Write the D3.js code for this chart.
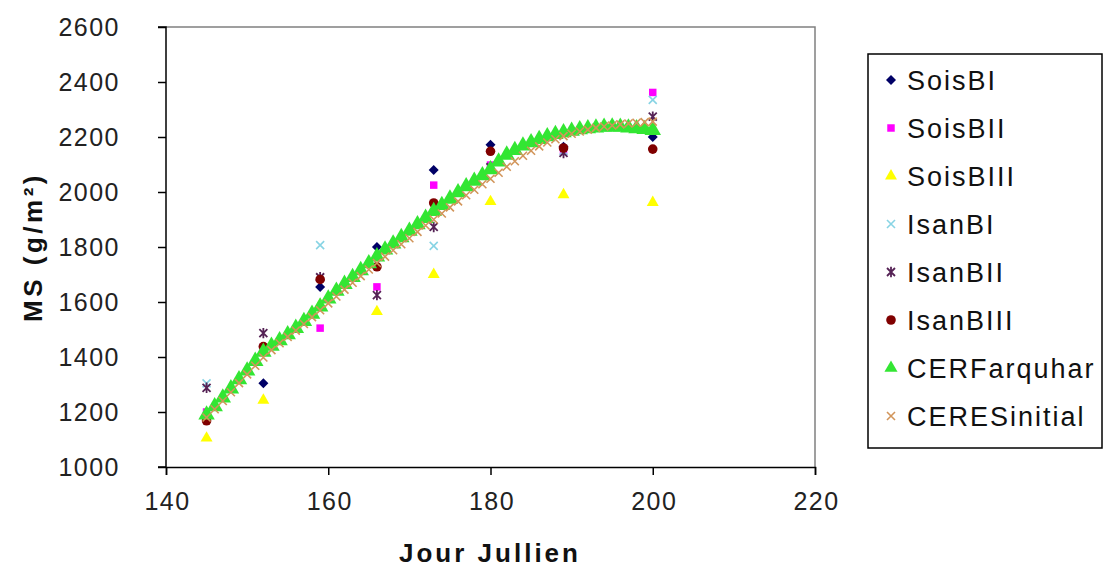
<!DOCTYPE html>
<html><head><meta charset="utf-8">
<script src="https://cdn.jsdelivr.net/npm/d3@7"></script>
<style>
body{margin:0;background:#fff;}
svg{display:block;font-family:"Liberation Sans",Arial,sans-serif;}
</style></head><body>
<svg id="c" width="1104" height="581"></svg>
<script>
const days = [145,152,159,166,173,180,189,200];
const soisBI   = [1185,1305,1655,1800,2080,2172,2165,2200];
const soisBII  = [1200,1435,1505,1655,2025,2098,2150,2362];
const soisBIII = [1105,1243,1590,1565,1700,1965,1990,1962];
const isanBI   = [1304,1430,1807,1740,1804,2090,2150,2335];
const isanBII  = [1288,1487,1690,1625,1873,2090,2142,2274];
const isanBIII = [1168,1438,1682,1728,1960,2148,2160,2156];

const modelDays = d3.range(145,201);
const cerFarquhar = [1190,1220,1252,1285,1318,1350,1385,1418,1440,1460,1482,1505,1530,1556,1583,1612,1640,1665,1690,1715,1740,1765,1790,1812,1835,1858,1882,1905,1930,1952,1975,1998,2020,2040,2060,2082,2110,2135,2152,2168,2180,2192,2202,2210,2216,2222,2227,2231,2234,2236,2237,2236,2234,2231,2228,2225];
const ceresInitial = [1180,1210,1240,1272,1305,1337,1368,1398,1425,1450,1473,1496,1520,1545,1570,1595,1620,1645,1670,1694,1718,1742,1765,1788,1810,1832,1855,1878,1900,1922,1944,1966,1988,2008,2028,2048,2070,2092,2112,2132,2150,2166,2180,2192,2203,2212,2220,2227,2233,2238,2242,2246,2249,2252,2254,2256];

const xTicks = [140,160,180,200,220];
const yTicks = [1000,1200,1400,1600,1800,2000,2200,2400,2600];
const seriesNames = ["SoisBI","SoisBII","SoisBIII","IsanBI","IsanBII","IsanBIII","CERFarquhar","CERESinitial"];

const svg = d3.select("#c");
const x = d3.scaleLinear().domain([140,220]).range([166,815]);
const y = d3.scaleLinear().domain([1000,2600]).range([467,27]);

// plot border (top/right grey)
svg.append("path").attr("d",`M${x(140)},${y(2600)}H${x(220)}V${y(1000)}`)
  .attr("fill","none").attr("stroke","#808080").attr("stroke-width",1.5);

function marker(g, type, color, s){
  s = s||1;
  const k = Math.sqrt(s);
  if(type==="diamond"){
    const r=5*k;
    g.append("path").attr("d",`M0,${-r}L${r},0L0,${r}L${-r},0Z`).attr("fill",color);
  } else if(type==="square"){
    g.append("path").attr("d",d3.symbol(d3.symbolSquare, 56*s)()).attr("fill",color);
  } else if(type==="triangle"){
    g.append("path").attr("d",d3.symbol(d3.symbolTriangle, 62*s)()).attr("fill",color);
  } else if(type==="circle"){
    g.append("circle").attr("r",4.8*k).attr("fill",color);
  } else if(type==="x"){
    const r=4*k;
    g.append("path").attr("d",`M${-r},${-r}L${r},${r}M${-r},${r}L${r},${-r}`).attr("stroke",color).attr("stroke-width",1.6).attr("fill","none");
  } else if(type==="star"){
    const r=4*k;
    g.append("path").attr("d",`M${-r},${-r}L${r},${r}M${-r},${r}L${r},${-r}M0,${-r*1.3}V${r*1.3}`).attr("stroke",color).attr("stroke-width",1.8).attr("fill","none");
  }
}

const series = [
  {name:seriesNames[0], days:days, vals:soisBI, type:"diamond", color:"#000066"},
  {name:seriesNames[1], days:days, vals:soisBII, type:"square", color:"#FF00FF"},
  {name:seriesNames[2], days:days, vals:soisBIII, type:"triangle", color:"#FFFF00"},
  {name:seriesNames[3], days:days, vals:isanBI, type:"x", color:"#88D4E4"},
  {name:seriesNames[4], days:days, vals:isanBII, type:"star", color:"#552255"},
  {name:seriesNames[5], days:days, vals:isanBIII, type:"circle", color:"#800000"},
  {name:seriesNames[6], days:modelDays, vals:cerFarquhar, type:"triangle", color:"#33E633", size:1.9},
  {name:seriesNames[7], days:modelDays, vals:ceresInitial, type:"x", color:"#D2955A"}
];

const plot = svg.append("g");
series.forEach(s=>{
  s.days.forEach((d,i)=>{
    const g = plot.append("g").attr("transform",`translate(${x(d)},${y(s.vals[i])})`);
    marker(g, s.type, s.color, s.size);
  });
});

// axes
const yAxis = d3.axisLeft(y).tickValues(yTicks).tickSize(8).tickPadding(38).tickFormat(d3.format("d"));
const xAxis = d3.axisBottom(x).tickValues(xTicks).tickSize(8).tickPadding(12).tickFormat(d3.format("d"));
const ya = svg.append("g").attr("transform",`translate(${x(140)},0)`).call(yAxis);
const xa = svg.append("g").attr("transform",`translate(0,${y(1000)})`).call(xAxis);
[ya,xa].forEach(a=>{
  a.select(".domain").attr("stroke","#000").attr("stroke-width",1.5);
  a.selectAll(".tick line").attr("stroke","#000").attr("stroke-width",1.5);
  a.selectAll(".tick text").attr("font-size",25).attr("fill","#222")
    .attr("letter-spacing","1.5px").attr("font-family","Liberation Sans, Arial, sans-serif");
});
ya.select(".domain").attr("d",`M-8,${y(2600)}H0V${y(1000)}H-8`);
xa.selectAll(".tick text").attr("dy","0.9em").attr("dx","1px");

// axis titles
svg.append("text").attr("x",490).attr("y",562).attr("text-anchor","middle")
  .attr("font-size",26).attr("font-weight","bold").attr("fill","#111")
  .attr("letter-spacing","3px").text("Jour Jullien");
svg.append("text").attr("transform","translate(42,247) rotate(-90)").attr("text-anchor","middle")
  .attr("font-size",26).attr("font-weight","bold").attr("fill","#111")
  .attr("letter-spacing","3.5px").text("MS (g/m²)");

// legend
const lg = svg.append("g");
lg.append("rect").attr("x",868).attr("y",54).attr("width",234).attr("height",394)
  .attr("fill","#fff").attr("stroke","#000").attr("stroke-width",1.5);
series.forEach((s,i)=>{
  const ly = 80 + i*48;
  const g = lg.append("g").attr("transform",`translate(891,${ly})`);
  marker(g, s.type, s.color, s.name==="CERFarquhar"?1.2:1);
  lg.append("text").attr("x",907).attr("y",ly).attr("dy","0.36em")
    .attr("font-size",27).attr("fill","#111").attr("letter-spacing","2px").text(s.name);
});
</script>
</body></html>
